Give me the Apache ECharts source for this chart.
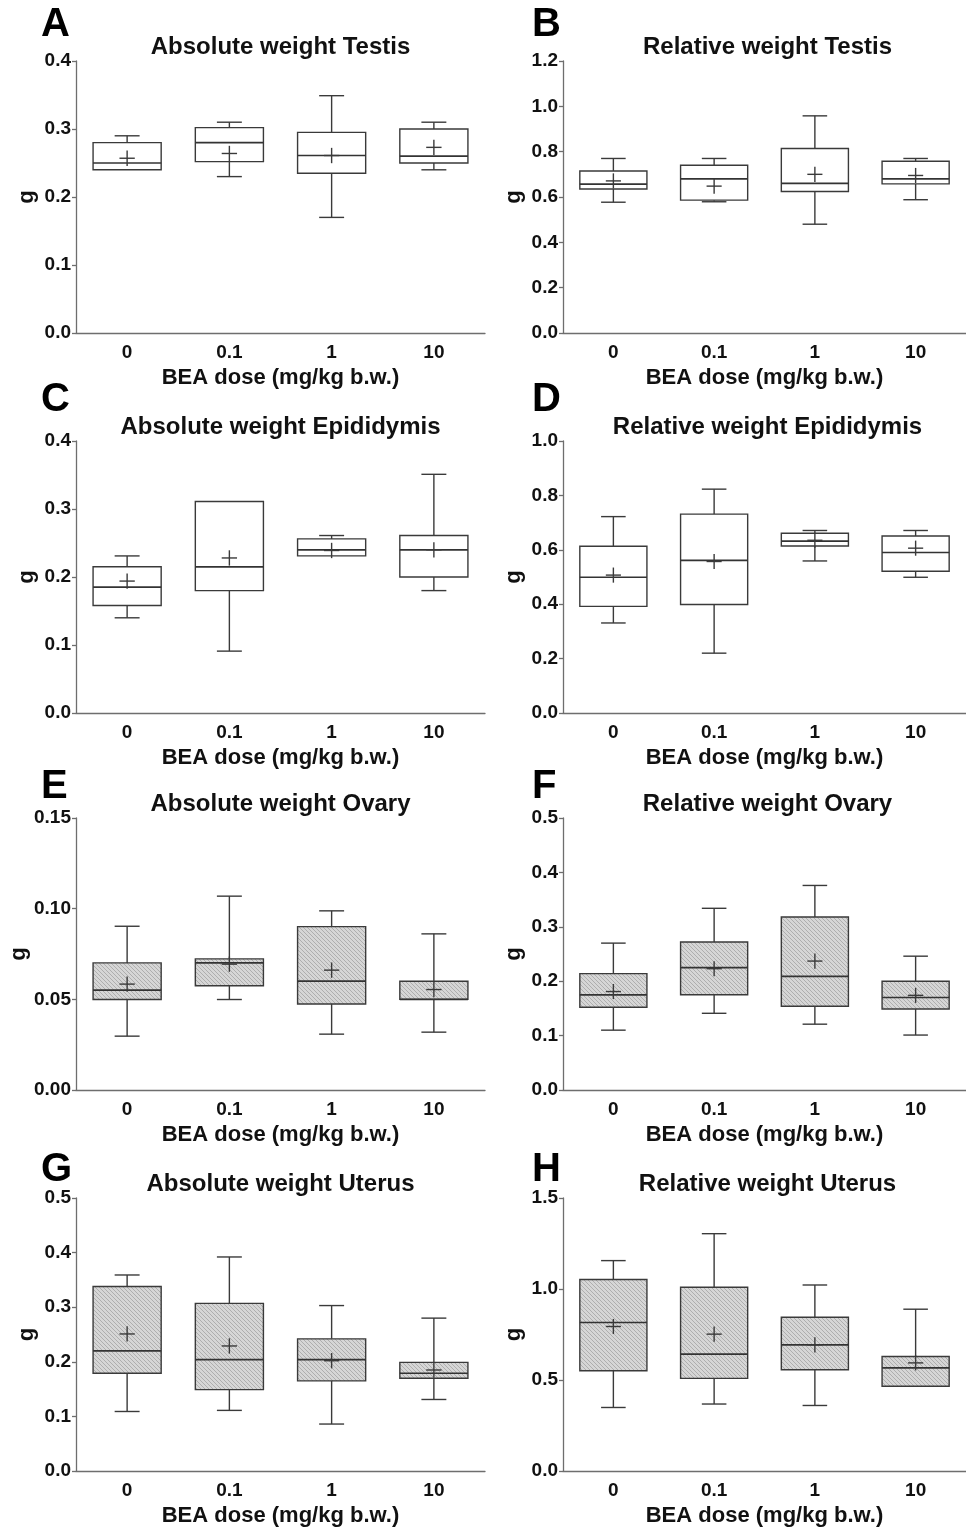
<!DOCTYPE html>
<html>
<head>
<meta charset="utf-8">
<script src="https://cdn.jsdelivr.net/npm/echarts@6/dist/echarts.min.js"></script>
<style>
html,body{margin:0;padding:0;background:#fff;}
#chart{width:966px;height:1528px;}
</style>
</head>
<body>
<div id="chart"></div>
<script>
// Categories (BEA dose, mg/kg b.w.)
const categories = ['0', '0.1', '1', '10'];

// Each row: [min, Q1, median, Q3, max, mean]
const absTestis = [
  [0.240, 0.240, 0.250, 0.280, 0.290, 0.257],
  [0.230, 0.252, 0.280, 0.302, 0.310, 0.264],
  [0.170, 0.235, 0.261, 0.295, 0.349, 0.261],
  [0.240, 0.250, 0.260, 0.300, 0.310, 0.273]
];
const relTestis = [
  [0.577, 0.635, 0.657, 0.715, 0.770, 0.671],
  [0.579, 0.586, 0.680, 0.740, 0.770, 0.648],
  [0.480, 0.624, 0.660, 0.814, 0.958, 0.700],
  [0.588, 0.658, 0.680, 0.758, 0.770, 0.695]
];
const absEpididymis = [
  [0.140, 0.158, 0.185, 0.215, 0.231, 0.194],
  [0.091, 0.180, 0.215, 0.311, 0.311, 0.228],
  [0.231, 0.231, 0.240, 0.256, 0.261, 0.239],
  [0.180, 0.200, 0.240, 0.261, 0.351, 0.240]
];
const relEpididymis = [
  [0.331, 0.392, 0.499, 0.613, 0.722, 0.507],
  [0.220, 0.399, 0.561, 0.731, 0.823, 0.557],
  [0.559, 0.614, 0.632, 0.661, 0.671, 0.635],
  [0.499, 0.521, 0.590, 0.651, 0.671, 0.606]
];
const absOvary = [
  [0.0297, 0.0499, 0.0551, 0.0701, 0.0903, 0.0584],
  [0.0499, 0.0575, 0.0701, 0.0723, 0.1069, 0.0694],
  [0.0308, 0.0474, 0.0600, 0.0901, 0.0988, 0.0661],
  [0.0319, 0.0500, 0.0500, 0.0600, 0.0861, 0.0554]
];
const relOvary = [
  [0.110, 0.152, 0.175, 0.214, 0.270, 0.181],
  [0.141, 0.175, 0.225, 0.272, 0.334, 0.223],
  [0.121, 0.154, 0.209, 0.318, 0.376, 0.237],
  [0.101, 0.149, 0.170, 0.200, 0.246, 0.174]
];
const absUterus = [
  [0.109, 0.179, 0.220, 0.338, 0.359, 0.251],
  [0.111, 0.149, 0.204, 0.307, 0.392, 0.229],
  [0.086, 0.165, 0.204, 0.242, 0.303, 0.202],
  [0.131, 0.170, 0.179, 0.199, 0.280, 0.185]
];
const relUterus = [
  [0.349, 0.551, 0.816, 1.052, 1.156, 0.794],
  [0.368, 0.509, 0.642, 1.010, 1.304, 0.752],
  [0.360, 0.556, 0.693, 0.845, 1.022, 0.693],
  [0.466, 0.466, 0.567, 0.629, 0.889, 0.594]
];

// Panel letters and titles
const letters = ['A', 'B', 'C', 'D', 'E', 'F', 'G', 'H'];
const titles = [
  'Absolute weight Testis', 'Relative weight Testis',
  'Absolute weight Epididymis', 'Relative weight Epididymis',
  'Absolute weight Ovary', 'Relative weight Ovary',
  'Absolute weight Uterus', 'Relative weight Uterus'
];
// y-axis scales: max, interval, decimals
const yMax = [0.4, 1.2, 0.4, 1.0, 0.15, 0.5, 0.5, 1.5];
const yInterval = [0.1, 0.2, 0.1, 0.2, 0.05, 0.1, 0.1, 0.5];
const yDecimals = [1, 1, 1, 1, 2, 1, 1, 1];
const xAxisName = 'BEA dose (mg/kg b.w.)';
const yAxisName = 'g';

const panelData = [absTestis, relTestis, absEpididymis, relEpididymis, absOvary, relOvary, absUterus, relUterus];
const hatched = [false, false, false, false, true, true, true, true];

// ---------- layout ----------
const colLeft = [76, 563];
const gridWidth = 409;
const rowTop = [61, 441, 818, 1198];
const rowHeight = [272, 272, 272, 274];
const letterY = [25, 400, 787, 1170];
const FONT = '"Liberation Sans", Arial, sans-serif';

// hatch pattern
function makeHatch() {
  const s = 4;
  const c = document.createElement('canvas');
  c.width = s; c.height = s;
  const g = c.getContext('2d');
  g.fillStyle = '#d6d6d6';
  g.fillRect(0, 0, s, s);
  g.strokeStyle = '#a9a9a9';
  g.lineWidth = 0.9;
  g.beginPath();
  g.moveTo(-1, -1); g.lineTo(s + 1, s + 1);
  g.moveTo(-1, s - 1); g.lineTo(1, s + 1);
  g.moveTo(s - 1, -1); g.lineTo(s + 1, 1);
  g.stroke();
  return c;
}
const hatchPattern = { type: 'pattern', image: makeHatch(), repeat: 'repeat' };

function makeRender(filled) {
  return function (params, api) {
    const xi = api.value(0);
    const mn = api.value(1), q1 = api.value(2), md = api.value(3), q3 = api.value(4), mx = api.value(5), mean = api.value(6);
    const bw = api.size([1, 0])[0];
    const hb = bw * 0.333, hc = bw * 0.122, hp = bw * 0.075;
    const cx = api.coord([xi, md])[0];
    const Y = v => api.coord([xi, v])[1];
    const ls = { stroke: '#3a3a3a', lineWidth: 1.4 };
    const ch = [];
    if (mx > q3) {
      ch.push({ type: 'line', shape: { x1: cx, y1: Y(q3), x2: cx, y2: Y(mx) }, style: ls });
      ch.push({ type: 'line', shape: { x1: cx - hc, y1: Y(mx), x2: cx + hc, y2: Y(mx) }, style: ls });
    }
    if (mn < q1) {
      ch.push({ type: 'line', shape: { x1: cx, y1: Y(q1), x2: cx, y2: Y(mn) }, style: ls });
      ch.push({ type: 'line', shape: { x1: cx - hc, y1: Y(mn), x2: cx + hc, y2: Y(mn) }, style: ls });
    }
    ch.push({
      type: 'rect',
      shape: { x: cx - hb, y: Y(q3), width: hb * 2, height: Y(q1) - Y(q3) },
      style: { fill: filled ? hatchPattern : '#ffffff', stroke: '#3a3a3a', lineWidth: 1.4 }
    });
    ch.push({ type: 'line', shape: { x1: cx - hb, y1: Y(md), x2: cx + hb, y2: Y(md) }, style: { stroke: '#333', lineWidth: 1.7 } });
    ch.push({ type: 'line', shape: { x1: cx - hp, y1: Y(mean), x2: cx + hp, y2: Y(mean) }, style: ls });
    ch.push({ type: 'line', shape: { x1: cx, y1: Y(mean) - hp, x2: cx, y2: Y(mean) + hp }, style: ls });
    return { type: 'group', children: ch };
  };
}

const grids = [], xAxes = [], yAxes = [], series = [], graphics = [];
for (let k = 0; k < 8; k++) {
  const col = k % 2, row = Math.floor(k / 2);
  const left = colLeft[col], top = rowTop[row], h = rowHeight[row];
  grids.push({ left: left, top: top, width: gridWidth, height: h, containLabel: false });
  xAxes.push({
    gridIndex: k, type: 'category', data: categories, boundaryGap: true,
    axisLine: { lineStyle: { color: '#6e6e6e', width: 1.3 } },
    axisTick: { alignWithLabel: true, length: 4, lineStyle: { color: '#6e6e6e', width: 1.3 } },
    axisLabel: { color: '#111', fontSize: 19, fontWeight: 'bold', fontFamily: FONT, margin: 10 },
    name: xAxisName, nameLocation: 'middle', nameGap: 34,
    nameTextStyle: { color: '#111', fontSize: 22, fontWeight: 'bold', fontFamily: FONT },
    splitLine: { show: false }
  });
  const dec = yDecimals[k];
  yAxes.push({
    gridIndex: k, type: 'value', min: 0, max: yMax[k], interval: yInterval[k],
    axisLine: { show: true, lineStyle: { color: '#6e6e6e', width: 1.3 } },
    axisTick: { show: true, length: 4, lineStyle: { color: '#6e6e6e', width: 1.3 } },
    axisLabel: { color: '#111', fontSize: 19, fontWeight: 'bold', fontFamily: FONT, margin: 5,
      formatter: v => v.toFixed(dec) },
    splitLine: { show: false },
    name: yAxisName, nameLocation: 'middle', nameGap: 38, nameRotate: 90,
    nameTextStyle: { color: '#111', fontSize: 22, fontWeight: 'bold', fontFamily: FONT }
  });
  series.push({
    type: 'custom', xAxisIndex: k, yAxisIndex: k,
    renderItem: makeRender(hatched[k]),
    encode: { x: 0, y: [1, 2, 3, 4, 5, 6] },
    data: panelData[k].map((d, i) => [i].concat(d)),
    clip: false, silent: true
  });
  graphics.push({
    type: 'text', x: left + gridWidth / 2, y: top - 14,
    style: { text: titles[k], fill: '#111', font: 'bold 24px ' + FONT, textAlign: 'center', textVerticalAlign: 'middle' }
  });
  graphics.push({
    type: 'text', x: col === 0 ? 41 : 532, y: letterY[row],
    style: { text: letters[k], fill: '#000', font: 'bold 40px ' + FONT, textAlign: 'left', textVerticalAlign: 'middle' }
  });
}

const chart = echarts.init(document.getElementById('chart'), null, { renderer: 'canvas' });
chart.setOption({
  backgroundColor: '#ffffff',
  animation: false,
  grid: grids,
  xAxis: xAxes,
  yAxis: yAxes,
  series: series,
  graphic: graphics
});
</script>
</body>
</html>
